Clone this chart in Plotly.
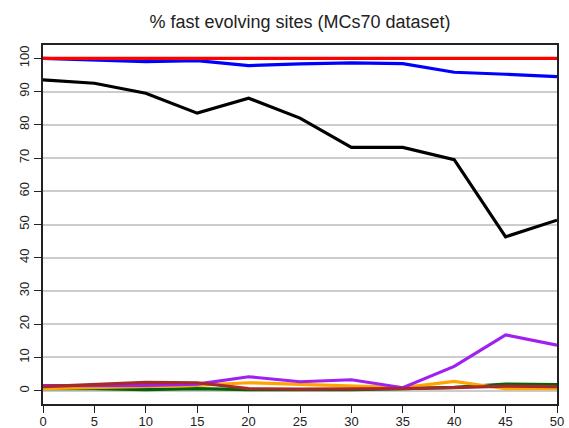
import plotly.graph_objects as go

# Window sizes (x) and percentage of fast evolving sites per method
window = [0, 5, 10, 15, 20, 25, 30, 35, 40, 45, 50]
black_vals = [93.5, 92.5, 89.5, 83.5, 88.0, 82.0, 73.2, 73.2, 69.5, 46.3, 51.3]
blue_vals = [100.0, 99.6, 99.0, 99.3, 97.8, 98.3, 98.6, 98.4, 95.8, 95.2, 94.5]
red_vals = [100.0] * 11
purple_vals = [1.5, 1.6, 1.6, 2.0, 4.2, 2.7, 3.3, 0.9, 7.3, 16.8, 13.7]
orange_vals = [0.6, 0.9, 1.1, 1.6, 2.4, 1.9, 1.6, 0.9, 2.8, 0.6, 0.6]
green_vals = [0.6, 0.6, 0.3, 0.6, 0.3, 0.3, 0.3, 0.6, 1.0, 2.0, 1.8]
brown_vals = [1.2, 1.8, 2.5, 2.4, 0.6, 0.5, 0.5, 0.6, 0.9, 1.4, 1.2]

y_ticks = list(range(0, 101, 10))
x_ticks = list(range(0, 51, 5))

series = [
    (black_vals, "black"),
    (blue_vals, "#0000ff"),
    (red_vals, "#ff0000"),
    (green_vals, "#006400"),
    (orange_vals, "#ffa500"),
    (purple_vals, "#a020f0"),
    (brown_vals, "#a52a2a"),
]

fig = go.Figure()
for vals, col in series:
    fig.add_trace(go.Scatter(x=window, y=vals, mode="lines",
                             line=dict(color=col, width=3.2),
                             showlegend=False, hoverinfo="skip"))

font = "Liberation Sans, Arial, sans-serif"
fig.update_layout(
    width=569, height=428,
    margin=dict(l=43, r=12, t=45, b=24, autoexpand=False),
    paper_bgcolor="white", plot_bgcolor="white",
    title=dict(text="% fast evolving sites (MCs70 dataset)",
               x=(43 + 557) / 2 / 569, xanchor="center",
               y=1 - 22 / 428, yanchor="middle",
               font=dict(family=font, size=18, color="#222222")),
    xaxis=dict(range=[0, 50], tickvals=x_ticks, ticks="outside", ticklen=7,
               tickwidth=1.3, tickcolor="#222", showgrid=False, zeroline=False,
               showline=True, linecolor="#222", linewidth=1.6, mirror=True,
               automargin=False, ticklabelstandoff=-2,
               tickfont=dict(family=font, size=13, color="#222")),
    yaxis=dict(range=[-4, 104], tickvals=y_ticks, ticks="outside", ticklen=7,
               tickwidth=1.3, tickcolor="#222", tickangle=-90,
               showgrid=True, gridcolor="#cccccc", gridwidth=1.5,
               zeroline=False, showline=True, linecolor="#222", linewidth=1.6,
               mirror=True, automargin=False,
               tickfont=dict(family=font, size=13, color="#222")),
)

fig.write_html("out.html")
